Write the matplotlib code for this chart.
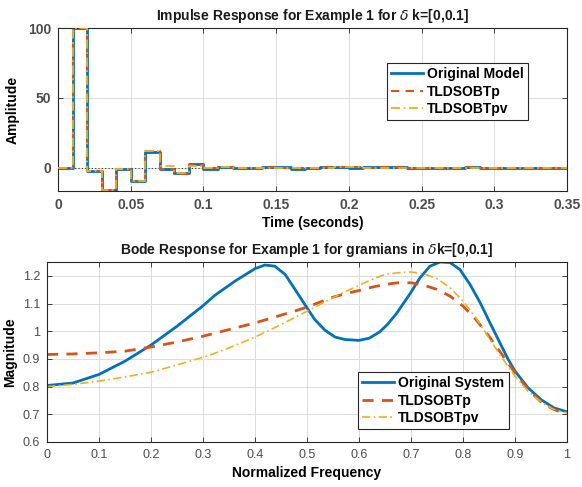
import matplotlib
matplotlib.use("Agg")
import matplotlib.pyplot as plt
import numpy as np

plt.rcParams['font.family'] = ['Liberation Sans', 'DejaVu Sans']

# ---- Impulse response data (step every 0.01 s) ----
t_imp = [round(0.01 * k, 2) for k in range(36)]
imp_orig = [0, 100, -1.9, -15.7, -0.5, -9.3, 11.6, -1.0, -3.8, 2.5, -0.5, 0.8, -0.4, -0.4, 0.4, 0.4,
            -0.8, 0.1, 0.3, 0.6, 0.2, 0.3, 0.7, 0.7, 0.1, 0.0, 0.0, 0.0, 0.5, 0.1, 0.0, 0.0, 0.0, 0.0, 0.0, 0.0]
imp_p = [0, 100, -1.9, -15.7, -0.5, -9.0, 12.3, -0.5, -4.5, 1.8, -0.2, 0.6, -0.3, -0.2, 0.3, 0.2,
         -0.2, 0.1, 0.3, 0.5, 0.6, 0.1, 0.3, 0.4, 0.1, 0.0, 0.0, 0.0, 0.3, 0.1, 0.0, 0.0, 0.0, 0.0, 0.0, 0.0]
imp_pv = [0, 100, -1.9, -15.7, -0.5, -9.0, 12.0, 1.4, -3.5, 1.5, -0.3, 0.5, -0.2, -0.2, 0.2, 0.2,
          -0.1, 0.1, 0.2, 0.3, 0.3, 0.1, 0.2, 0.2, 0.1, 0.0, 0.0, 0.0, 0.2, 0.1, 0.0, 0.0, 0.0, 0.0, 0.0, 0.0]

# ---- Bode magnitude data ----
freq_orig = [0, 0.05, 0.1, 0.15, 0.2, 0.25, 0.3, 0.323, 0.3615, 0.4, 0.419, 0.438, 0.458, 0.477,
             0.496, 0.515, 0.535, 0.554, 0.573, 0.6, 0.62, 0.64, 0.655, 0.6725, 0.698, 0.717,
             0.7365, 0.756, 0.775, 0.794, 0.8135, 0.833, 0.852, 0.871, 0.887, 0.9, 0.925, 0.95,
             0.975, 1.0]
mag_orig = [0.804, 0.813, 0.844, 0.892, 0.950, 1.018, 1.092, 1.130, 1.181, 1.226, 1.239, 1.235,
            1.205, 1.151, 1.096, 1.042, 1.003, 0.979, 0.970, 0.967, 0.975, 0.998, 1.025, 1.065,
            1.135, 1.192, 1.235, 1.250, 1.248, 1.223, 1.169, 1.103, 1.030, 0.958, 0.898, 0.856,
            0.796, 0.753, 0.723, 0.709]
freq = [0, 0.05, 0.1, 0.15, 0.2, 0.25, 0.3, 0.325, 0.35, 0.375, 0.4, 0.425, 0.45, 0.475, 0.5,
        0.525, 0.55, 0.575, 0.6, 0.625, 0.65, 0.675, 0.7, 0.725, 0.75, 0.775, 0.8, 0.825, 0.85,
        0.875, 0.9, 0.925, 0.95, 0.975, 1.0]
mag_p = [0.916, 0.918, 0.922, 0.928, 0.943, 0.961, 0.982, 0.994, 1.006, 1.018, 1.030, 1.044,
         1.058, 1.072, 1.087, 1.105, 1.123, 1.136, 1.147, 1.159, 1.169, 1.175, 1.175, 1.166,
         1.151, 1.127, 1.091, 1.042, 0.982, 0.916, 0.850, 0.790, 0.745, 0.717, 0.702]
mag_pv = [0.800, 0.808, 0.820, 0.835, 0.852, 0.878, 0.906, 0.922, 0.940, 0.959, 0.979, 1.001,
          1.024, 1.048, 1.072, 1.097, 1.121, 1.144, 1.166, 1.187, 1.205, 1.211, 1.214, 1.207,
          1.190, 1.157, 1.109, 1.048, 0.976, 0.904, 0.838, 0.784, 0.745, 0.717, 0.705]

C1, C2, C3 = '#0072BD', '#D95319', '#EDB120'
TICKC = '#4d4d4d'

fig = plt.figure(figsize=(5.82, 4.87), dpi=100)

def style_axes(ax, bold_ticks):
    ax.grid(True, color='#dcdcdc', linewidth=0.7)
    ax.set_axisbelow(True)
    for s in ax.spines.values():
        s.set_color('#262626')
        s.set_linewidth(0.8)
    ax.tick_params(direction='in', top=True, right=True, length=3.5, width=0.6,
                   colors='#262626', labelcolor=TICKC, labelsize=10 if bold_ticks else 9, pad=5)
    if bold_ticks:
        for lab in ax.get_xticklabels() + ax.get_yticklabels():
            lab.set_fontweight('bold')

# ---- Top: impulse ----
ax1 = fig.add_axes([58/582, 1-191/487, 509/582, 163/487])
ax1.axhline(0, color='#333333', linestyle=(0, (1, 2)), linewidth=0.8, zorder=1)
ax1.step(t_imp, imp_orig, where='post', color=C1, linewidth=2.0, label='Original Model', zorder=2)
ax1.step(t_imp, imp_p, where='post', color=C2, linewidth=1.5, linestyle=(0, (4, 3)), label='TLDSOBTp', zorder=3)
ax1.step(t_imp, imp_pv, where='post', color=C3, linewidth=1.3, linestyle=(0, (5, 2, 1, 2)), label='TLDSOBTpv', zorder=4)
ax1.set_xlim(0, 0.35)
ax1.set_ylim(-16.5, 100)
ax1.set_xticks([0, 0.05, 0.1, 0.15, 0.2, 0.25, 0.3, 0.35])
ax1.set_xticklabels(['0', '0.05', '0.1', '0.15', '0.2', '0.25', '0.3', '0.35'])
ax1.set_yticks([0, 50, 100])
style_axes(ax1, True)
ax1.set_title(r'Impulse Response for Example 1 for $\delta$ k=[0,0.1]', fontsize=10,
              fontweight='bold', color='#1a1a1a', pad=6)
ax1.set_xlabel('Time (seconds)', fontsize=10, fontweight='bold', labelpad=3)
ax1.set_ylabel('Amplitude', fontsize=10, fontweight='bold', labelpad=6)
leg1 = ax1.legend(loc='upper left', bbox_to_anchor=((387-58)/509, (191-63)/163),
                  prop={'weight': 'bold', 'size': 10}, frameon=True, fancybox=False,
                  edgecolor='#262626', framealpha=1, handlelength=2.3, handletextpad=0.3,
                  borderpad=0.3, labelspacing=0.25, borderaxespad=0)
leg1.get_frame().set_linewidth(0.8)

# ---- Bottom: Bode ----
ax2 = fig.add_axes([47/582, 1-442/487, 520/582, 180/487])
ax2.plot(freq_orig, mag_orig, color=C1, linewidth=2.0, label='Original System')
ax2.plot(freq, mag_p, color=C2, linewidth=2.0, linestyle=(0, (4, 3)), label='TLDSOBTp')
ax2.plot(freq, mag_pv, color=C3, linewidth=1.2, linestyle=(0, (5, 2, 1, 2)), label='TLDSOBTpv')
ax2.set_xlim(0, 1)
ax2.set_ylim(0.6, 1.25)
ax2.set_xticks([0, 0.1, 0.2, 0.3, 0.4, 0.5, 0.6, 0.7, 0.8, 0.9, 1])
ax2.set_xticklabels(['0', '0.1', '0.2', '0.3', '0.4', '0.5', '0.6', '0.7', '0.8', '0.9', '1'])
ax2.set_yticks([0.6, 0.7, 0.8, 0.9, 1.0, 1.1, 1.2])
ax2.set_yticklabels(['0.6', '0.7', '0.8', '0.9', '1', '1.1', '1.2'])
style_axes(ax2, False)
ax2.set_title(r'Bode Response for Example 1 for gramians in $\delta$k=[0,0.1]', fontsize=10,
              fontweight='bold', color='#1a1a1a', pad=6)
ax2.set_xlabel('Normalized Frequency', fontsize=10, fontweight='bold', labelpad=4)
ax2.set_ylabel('Magnitude', fontsize=10, fontweight='bold', labelpad=4)
leg2 = ax2.legend(loc='upper left', bbox_to_anchor=((358-47)/520, (442-372)/180),
                  prop={'weight': 'bold', 'size': 10}, frameon=True, fancybox=False,
                  edgecolor='#262626', framealpha=1, handlelength=2.3, handletextpad=0.3,
                  borderpad=0.3, labelspacing=0.25, borderaxespad=0)
leg2.get_frame().set_linewidth(0.8)

fig.savefig('out.png', dpi=100)
